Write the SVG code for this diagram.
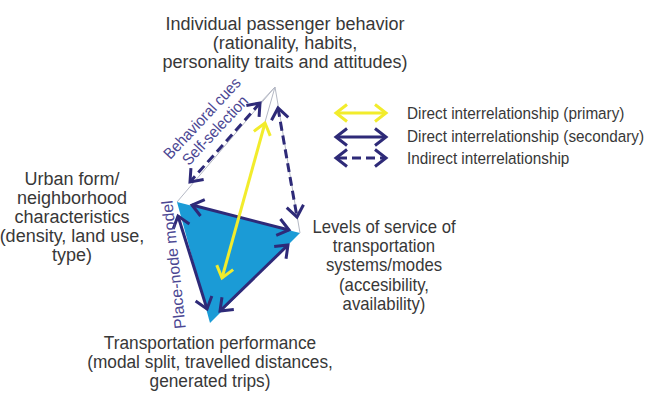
<svg xmlns="http://www.w3.org/2000/svg" width="649" height="398" viewBox="0 0 649 398">
  <style>
    .lbl { font-family: "Liberation Sans", Arial, sans-serif; font-size: 18px; fill: #383838; text-anchor: middle; }
    .leg { font-family: "Liberation Sans", Arial, sans-serif; font-size: 17px; fill: #383838; }
    .tag { font-family: "Liberation Sans", Arial, sans-serif; font-size: 16px; fill: #4b4793; text-anchor: middle; }
    .edge { fill: none; stroke: #2e2a78; stroke-width: 3; }
    .dash { fill: none; stroke: #2e2a78; stroke-width: 3; stroke-dasharray: 9 5; }
    .prim { fill: none; stroke: #f2ec2c; stroke-width: 3; }
    .thin { fill: none; stroke: #b4b8c4; stroke-width: 1; }
  </style>
  <defs>
    <!-- open chevron heads, drawn at user-space scale -->
    <marker id="hn" markerUnits="userSpaceOnUse" markerWidth="20" markerHeight="24" viewBox="-16 -12 20 24" refX="0" refY="0" orient="auto-start-reverse">
      <path d="M -11 -8.5 L 0 0 L -11 8.5" fill="none" stroke="#2e2a78" stroke-width="3"/>
    </marker>
    <marker id="hy" markerUnits="userSpaceOnUse" markerWidth="20" markerHeight="24" viewBox="-16 -12 20 24" refX="0" refY="0" orient="auto-start-reverse">
      <path d="M -11 -8.5 L 0 0 L -11 8.5" fill="none" stroke="#f2ec2c" stroke-width="3"/>
    </marker>
  </defs>

  <rect width="649" height="398" fill="#ffffff"/>

  <!-- tetrahedron base: place-node triangle -->
  <g id="base">
    <polygon points="177,202 300,233 210,323" fill="#1b9bd6"/>
  </g>

  <!-- thin edges rising to the apex -->
  <g id="apex">
    <polyline class="thin" points="177,202 275,87 300,233"/>
    <polyline class="thin" points="260,103 275,87 265,122"/>
  </g>

  <g id="connectors">
    <!-- triangle edges -->
    <line class="edge" x1="192" y1="205" x2="289" y2="230" marker-start="url(#hn)" marker-end="url(#hn)"/>
    <line class="edge" x1="178" y1="216" x2="207" y2="309" marker-start="url(#hn)" marker-end="url(#hn)"/>
    <line class="edge" x1="220" y1="311" x2="288" y2="245" marker-start="url(#hn)" marker-end="url(#hn)"/>
    <!-- indirect links to the apex -->
    <line class="dash" x1="260" y1="103" x2="190" y2="182" marker-start="url(#hn)" marker-end="url(#hn)"/>
    <line class="dash" x1="278" y1="108" x2="297" y2="217" marker-start="url(#hn)" marker-end="url(#hn)"/>
    <!-- primary link -->
    <line class="prim" x1="265" y1="123" x2="222" y2="278" marker-start="url(#hy)" marker-end="url(#hy)"/>
  </g>

  <!-- node labels -->
  <g id="behavior" transform="translate(285,0)">
    <text class="lbl" x="0" y="30">Individual passenger behavior</text>
    <text class="lbl" x="0" y="49">(rationality, habits,</text>
    <text class="lbl" x="0" y="68">personality traits and attitudes)</text>
  </g>
  <g id="urban-form" transform="translate(72,0)">
    <text class="lbl" x="0" y="185">Urban form/</text>
    <text class="lbl" x="0" y="204">neighborhood</text>
    <text class="lbl" x="0" y="223">characteristics</text>
    <text class="lbl" x="0" y="242">(density, land use,</text>
    <text class="lbl" x="0" y="261">type)</text>
  </g>
  <g id="service" transform="translate(384,0) scale(0.93,1)">
    <text class="lbl" x="0" y="233">Levels of service of</text>
    <text class="lbl" x="0" y="252">transportation</text>
    <text class="lbl" x="0" y="271">systems/modes</text>
    <text class="lbl" x="0" y="291">(accesibility,</text>
    <text class="lbl" x="0" y="310">availability)</text>
  </g>
  <g id="performance" transform="translate(210,0) scale(0.96,1)">
    <text class="lbl" x="0" y="349">Transportation performance</text>
    <text class="lbl" x="0" y="368">(modal split, travelled distances,</text>
    <text class="lbl" x="0" y="387">generated trips)</text>
  </g>

  <!-- relation tags -->
  <g id="tags">
    <text class="tag" transform="translate(206,122) rotate(-47) scale(0.92,1)">Behavioral cues</text>
    <text class="tag" transform="translate(219,134) rotate(-47) scale(0.92,1)">Self-selection</text>
    <text class="tag" transform="translate(179,264) rotate(-96)">Place-node model</text>
  </g>

  <!-- legend -->
  <g id="legend">
    <line class="prim" x1="336" y1="113" x2="386" y2="113" marker-start="url(#hy)" marker-end="url(#hy)"/>
    <line class="edge" x1="336" y1="137" x2="386" y2="137" marker-start="url(#hn)" marker-end="url(#hn)"/>
    <line class="dash" x1="336" y1="158" x2="386" y2="158" stroke-dasharray="10 6" stroke-dashoffset="-2" marker-start="url(#hn)" marker-end="url(#hn)"/>
    <g transform="translate(407,0) scale(0.9,1)">
      <text class="leg" x="0" y="119">Direct interrelationship (primary)</text>
      <text class="leg" x="0" y="142">Direct interrelationship (secondary)</text>
      <text class="leg" x="0" y="164">Indirect interrelationship</text>
    </g>
  </g>
</svg>
